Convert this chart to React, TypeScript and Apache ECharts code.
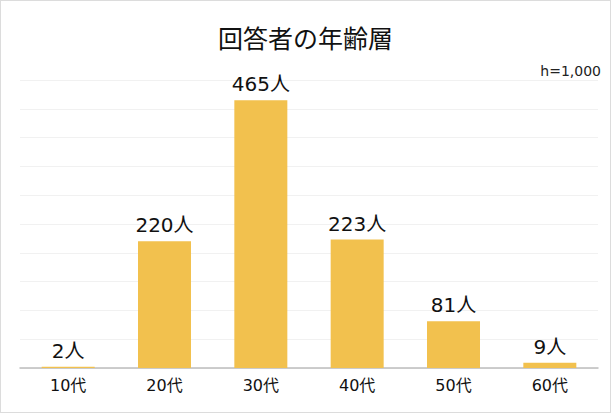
import * as echarts from "echarts";
import React, { useEffect, useRef } from "react";

const ageGroups = ["10代", "20代", "30代", "40代", "50代", "60代"];
const respondents = [2, 220, 465, 223, 81, 9];
const titleText = "回答者の年齢層";
const sampleNote = "h=1,000";

// Verdana-like latin glyphs, CJK falls back to Noto
const FONT = '"DejaVu Sans", "Noto Sans CJK JP", sans-serif';
const CJK_FONT = '"Noto Sans CJK JP", sans-serif';

const AgeChart: React.FC = () => {
  const chartRef = useRef<HTMLDivElement | null>(null);

  useEffect(() => {
    document.body.style.margin = "0";
    const chart = echarts.init(chartRef.current, undefined, { renderer: "svg" });
    chart.setOption({
      animation: false,
      textStyle: { fontFamily: FONT },
      title: {
        text: titleText,
        left: "center",
        top: 18,
        textStyle: { fontSize: 25, fontWeight: "normal", color: "#111", fontFamily: CJK_FONT },
      },
      graphic: [
        {
          type: "text",
          right: 9,
          top: 63,
          style: { text: sampleNote, fontSize: 14, fill: "#222", fontFamily: FONT },
        },
      ],
      grid: { left: 19, right: 12, top: 79, bottom: 44 },
      xAxis: {
        type: "category",
        data: ageGroups,
        axisTick: { show: false },
        axisLine: { lineStyle: { color: "#bdbdbd", width: 1.5 } },
        axisLabel: { fontSize: 16, color: "#111", margin: 9, fontFamily: FONT },
      },
      yAxis: {
        type: "value",
        min: 0,
        max: 500,
        interval: 50,
        axisLabel: { show: false },
        axisLine: { show: false },
        axisTick: { show: false },
        splitLine: { lineStyle: { color: "#f1f1f1" } },
      },
      series: [
        {
          type: "bar",
          data: respondents,
          barWidth: 53,
          itemStyle: { color: "#F2C14E" },
          label: {
            show: true,
            position: "top",
            distance: 6,
            formatter: "{c}人",
            fontSize: 20,
            color: "#111",
            fontFamily: FONT,
          },
        },
      ],
    });
    return () => chart.dispose();
  }, []);

  return (
    <div
      style={{
        width: 611,
        height: 413,
        boxSizing: "border-box",
        border: "1px solid #dcdcdc",
        background: "#fff",
      }}
    >
      <div ref={chartRef} style={{ width: 609, height: 411 }}></div>
    </div>
  );
};

export default function App() {
  return <AgeChart />;
}
